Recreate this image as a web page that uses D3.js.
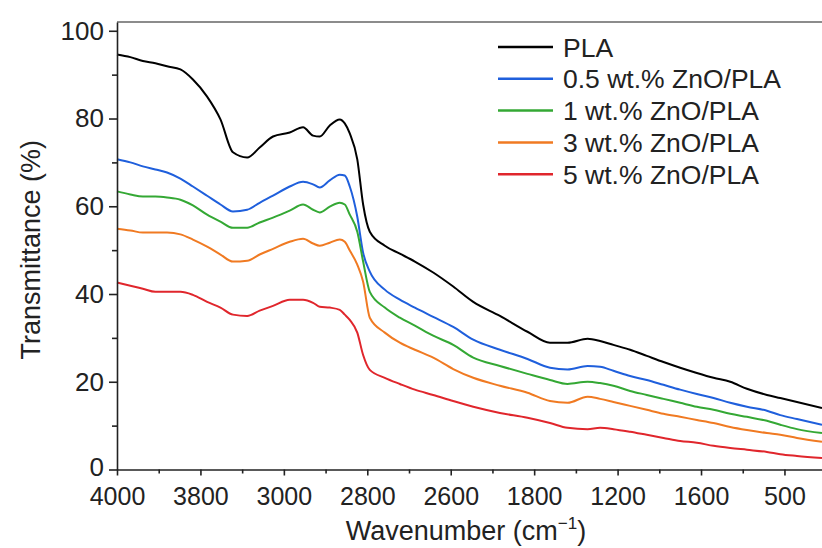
<!DOCTYPE html>
<html>
<head>
<meta charset="utf-8">
<script src="https://cdn.jsdelivr.net/npm/d3@7"></script>
<style>
  body { margin: 0; background: #fff; }
  svg { display: block; font-family: "Liberation Sans", Arial, sans-serif; }
</style>
</head>
<body>
<div class="container"></div>
<script>
// tick labels as printed on the x axis (equal spacing)
const tickLabels = ['4000', '3800', '3000', '2800', '2600', '1800', '1200', '1600', '500'];

// x position in tick units (0 = first label, 8 = last label)
const xPos = [0, 0.16, 0.31, 0.46, 0.60, 0.76, 0.91, 1.08, 1.24, 1.39, 1.56, 1.71, 1.87, 2.07, 2.23,
  2.35, 2.43, 2.55, 2.67, 2.73, 2.79, 2.88, 2.95, 3.03, 3.21, 3.39, 3.57, 3.79, 4.03, 4.27, 4.59,
  4.92, 5.19, 5.40, 5.64, 5.79, 5.95, 6.15, 6.35, 6.55, 6.75, 6.95, 7.15, 7.35, 7.55, 7.79, 7.95,
  8.15, 8.45];

const pla = [94.6, 94.0, 93.1, 92.6, 91.9, 91.2, 88.9, 85.0, 79.8, 72.3, 71.1, 73.4, 75.9, 76.8, 78.0,
  76.1, 75.9, 78.4, 79.8, 78.9, 76.6, 70.7, 60.4, 54.2, 51.0, 49.2, 47.4, 44.9, 41.7, 38.2, 35.0,
  31.4, 28.9, 28.9, 29.8, 29.3, 28.4, 27.3, 25.9, 24.5, 23.2, 22.0, 20.9, 20.0, 18.4, 17.0, 16.3,
  15.4, 14.0];
const zno05 = [70.7, 70.0, 69.1, 68.4, 67.7, 66.3, 64.5, 62.4, 60.4, 58.8, 59.2, 60.8, 62.4, 64.5, 65.6,
  65.0, 64.3, 65.9, 67.2, 67.0, 64.5, 57.6, 49.4, 45.1, 41.0, 38.7, 36.9, 34.8, 32.5, 29.6, 27.3,
  25.2, 23.2, 22.8, 23.6, 23.4, 22.5, 21.3, 20.4, 19.3, 18.2, 17.2, 16.3, 15.2, 14.3, 13.4, 12.4,
  11.5, 10.2];
const zno1 = [63.4, 62.7, 62.2, 62.2, 62.0, 61.5, 60.2, 58.1, 56.5, 55.1, 55.1, 56.3, 57.4, 59.0, 60.4,
  59.2, 58.6, 59.9, 60.8, 60.4, 58.1, 54.2, 47.4, 40.5, 36.9, 34.6, 32.8, 30.5, 28.4, 25.5, 23.6,
  21.8, 20.4, 19.5, 20.0, 19.7, 19.1, 17.9, 17.0, 16.1, 15.2, 14.3, 13.6, 12.7, 12.0, 11.1, 10.2,
  9.2, 8.3];
const zno3 = [54.9, 54.5, 54.0, 54.0, 54.0, 53.6, 52.4, 50.8, 49.0, 47.4, 47.6, 49.0, 50.3, 51.9, 52.6,
  51.5, 51.0, 51.7, 52.4, 51.9, 49.9, 46.7, 42.8, 34.6, 31.2, 28.9, 27.3, 25.5, 22.9, 20.9, 19.1,
  17.5, 15.6, 15.2, 16.6, 16.1, 15.4, 14.5, 13.6, 12.7, 12.0, 11.3, 10.6, 9.7, 9.0, 8.3, 7.9,
  7.2, 6.3];
const zno5 = [42.6, 41.9, 41.2, 40.5, 40.5, 40.5, 39.8, 38.2, 36.9, 35.3, 35.0, 36.2, 37.3, 38.7, 38.7,
  38.0, 37.1, 36.9, 36.4, 35.3, 34.1, 31.2, 26.1, 22.7, 20.9, 19.5, 18.2, 17.0, 15.6, 14.3, 12.9,
  11.8, 10.6, 9.5, 9.2, 9.5, 9.2, 8.6, 7.9, 7.2, 6.5, 6.1, 5.4, 4.9, 4.5, 4.0, 3.5,
  3.1, 2.6];

const seriesNames = ['PLA', '0.5 wt.% ZnO/PLA', '1 wt.% ZnO/PLA', '3 wt.% ZnO/PLA', '5 wt.% ZnO/PLA'];
const seriesValues = [pla, zno05, zno1, zno3, zno5];
const seriesColors = ['#000000', '#1f5fdc', '#34a834', '#f07a22', '#e0262c'];

const width = 822, height = 548;
const m = {left: 117, right: 822, top: 22, bottom: 469.5};

const svg = d3.select('.container').append('svg')
  .attr('width', width)
  .attr('height', height);

const x = d3.scaleLinear().domain([0, 8.45]).range([m.left, m.right]);
const y = d3.scaleLinear().domain([0, 102]).range([m.bottom, m.top]);

// curves
const line = d3.line()
  .x((d, i) => x(xPos[i]))
  .y(d => y(d))
  .curve(d3.curveMonotoneX);

svg.append('g')
  .selectAll('path')
  .data(seriesValues)
  .enter()
  .append('path')
  .attr('fill', 'none')
  .attr('stroke', (d, i) => seriesColors[i])
  .attr('stroke-width', 2)
  .attr('stroke-linejoin', 'round')
  .attr('d', d => line(d));

// frame top
svg.append('line')
  .attr('x1', m.left).attr('x2', m.right)
  .attr('y1', m.top).attr('y2', m.top)
  .attr('stroke', '#666').attr('stroke-width', 1.5);

// y axis: minor then major
svg.append('g')
  .attr('transform', `translate(${m.left},0)`)
  .call(d3.axisLeft(y).tickValues([10, 30, 50, 70, 90]).tickSize(5).tickFormat(''))
  .call(g => g.select('.domain').remove());

const yAxis = svg.append('g')
  .attr('transform', `translate(${m.left},0)`)
  .call(d3.axisLeft(y).tickValues([0, 20, 40, 60, 80, 100]).tickSize(8).tickPadding(5).tickSizeOuter(0));
yAxis.selectAll('text').attr('font-size', 26).attr('fill', '#222').attr('font-family', '"Liberation Sans", Arial, sans-serif');
// lift the "0" a little so it clears the first x label
yAxis.selectAll('.tick text').filter(d => d === 0).attr('dy', '0.22em');

// x axis: minor then major
svg.append('g')
  .attr('transform', `translate(0,${m.bottom})`)
  .call(d3.axisBottom(x).tickValues(d3.range(0.5, 8.5, 1)).tickSize(4).tickFormat(''))
  .call(g => g.select('.domain').remove());

const xAxis = svg.append('g')
  .attr('transform', `translate(0,${m.bottom})`)
  .call(d3.axisBottom(x).tickValues(d3.range(0, 9)).tickSize(6).tickPadding(7).tickSizeOuter(0)
    .tickFormat(i => tickLabels[i]));
xAxis.selectAll('text').attr('font-size', 25).attr('fill', '#222').attr('dy', '0.9em')
  .attr('font-family', '"Liberation Sans", Arial, sans-serif');

svg.selectAll('.domain, .tick line').attr('stroke', '#222').attr('stroke-width', 1.6);

// axis titles
svg.append('text')
  .attr('transform', `translate(40,${(m.top + m.bottom) / 2 + 4}) rotate(-90)`)
  .attr('text-anchor', 'middle')
  .attr('font-size', 27)
  .attr('fill', '#222')
  .text('Transmittance (%)');

const xt = svg.append('text')
  .attr('x', 466).attr('y', 540)
  .attr('text-anchor', 'middle')
  .attr('font-size', 27)
  .attr('fill', '#222');
xt.append('tspan').text('Wavenumber (cm');
xt.append('tspan').attr('font-size', 17).attr('dy', -11).text('\u22121');
xt.append('tspan').attr('dy', 11).text(')');

// legend
const legend = svg.append('g').selectAll('g')
  .data(seriesNames)
  .enter()
  .append('g')
  .attr('transform', (d, i) => `translate(498,${47 + i * 31.8})`);
legend.append('line')
  .attr('x1', 0).attr('x2', 55)
  .attr('stroke', (d, i) => seriesColors[i])
  .attr('stroke-width', 2.5);
legend.append('text')
  .attr('x', 65).attr('dy', '0.36em')
  .attr('font-size', 26.5)
  .attr('fill', '#222')
  .text(d => d);
</script>
</body>
</html>
